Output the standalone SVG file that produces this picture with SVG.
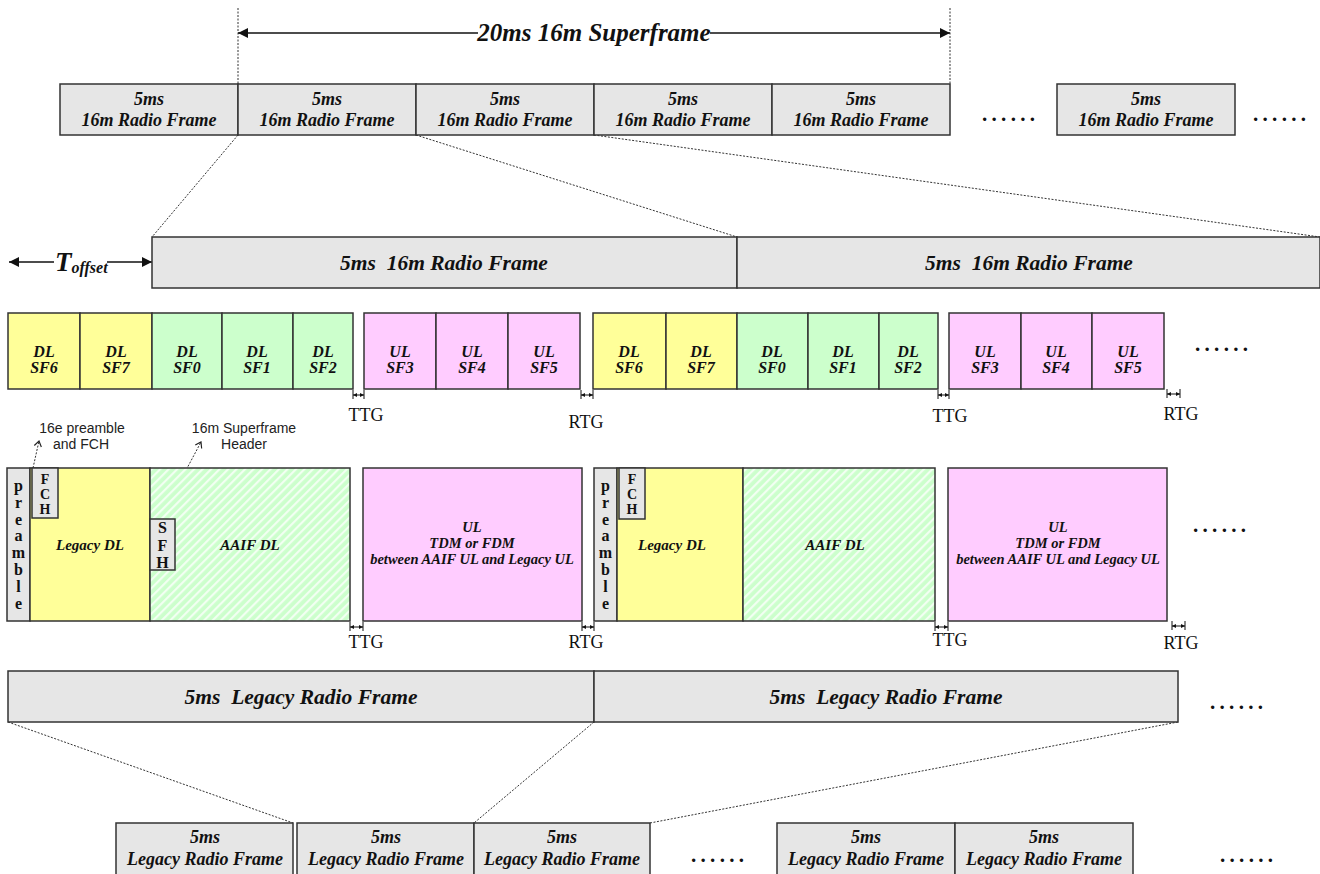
<svg xmlns="http://www.w3.org/2000/svg" width="1320" height="874" viewBox="0 0 1320 874">
<defs>
<style>
.g{fill:#e6e6e6;stroke:#333;stroke-width:1.5}
.y{fill:#ffff99;stroke:#333;stroke-width:1.5}
.gr{fill:#ccffcc;stroke:#333;stroke-width:1.5}
.p{fill:#ffccff;stroke:#333;stroke-width:1.5}
.h{fill:url(#hatch);stroke:#333;stroke-width:1.5}
.bi{font-family:"Liberation Serif","Times New Roman",serif;font-weight:bold;font-style:italic;fill:#111;text-anchor:middle;white-space:pre}
.it{font-family:"Liberation Serif","Times New Roman",serif;font-style:italic;font-weight:bold;fill:#111;text-anchor:middle}
.rg{font-family:"Liberation Serif","Times New Roman",serif;fill:#111;text-anchor:middle;font-size:18px}
.vb{font-family:"Liberation Serif","Times New Roman",serif;font-weight:bold;fill:#111;text-anchor:middle}
.ar{font-family:"Liberation Sans",Arial,sans-serif;fill:#222;font-size:14px;text-anchor:middle}
.dots{font-family:"Liberation Serif",serif;font-weight:bold;font-size:21px;letter-spacing:4.3px;fill:#111}
.dl{stroke:#333;stroke-width:1;stroke-dasharray:2,1.5;fill:none}
.arw{stroke:#111;stroke-width:1.5;fill:none}
.gap{stroke:#111;stroke-width:1;fill:none}
</style>
<pattern id="hatch" width="6" height="6" patternUnits="userSpaceOnUse" patternTransform="rotate(45)">
<rect width="6" height="6" fill="#ccffcc"/>
<rect width="2.2" height="6" fill="#f2fff2"/>
</pattern>
<marker id="ah" viewBox="0 0 10 10" refX="10" refY="5" markerWidth="11" markerHeight="10" markerUnits="userSpaceOnUse" orient="auto-start-reverse">
<path d="M0,0 L10,5 L0,10 Z" fill="#111"/>
</marker>
<marker id="sa" viewBox="0 0 10 10" refX="10" refY="5" markerWidth="4" markerHeight="4" markerUnits="userSpaceOnUse" orient="auto-start-reverse">
<path d="M0,0 L10,5 L0,10 Z" fill="#111"/>
</marker>
<marker id="oa" viewBox="0 0 10 10" refX="9" refY="5" markerWidth="9" markerHeight="9" markerUnits="userSpaceOnUse" orient="auto">
<path d="M3,1 L9,5 L3,9" fill="none" stroke="#222" stroke-width="1.3"/>
</marker>
</defs>
<rect width="1320" height="874" fill="#ffffff"/>

<!-- connectors -->
<g id="connectors">
<line class="dl" x1="238" y1="8" x2="238" y2="84"/>
<line class="dl" x1="950" y1="8" x2="950" y2="84"/>
<line class="arw" x1="238" y1="33" x2="478" y2="33" marker-start="url(#ah)"/>
<line class="arw" x1="710" y1="33" x2="950" y2="33" marker-end="url(#ah)"/>
<line class="dl" x1="238" y1="135" x2="152" y2="237"/>
<line class="dl" x1="416" y1="135" x2="737" y2="237"/>
<line class="dl" x1="594" y1="135" x2="1320" y2="237"/>
<line class="arw" x1="9" y1="262" x2="54" y2="262" marker-start="url(#ah)"/>
<line class="arw" x1="107" y1="262" x2="152" y2="262" marker-end="url(#ah)"/>
<line class="dl" x1="33" y1="468" x2="39" y2="441" marker-end="url(#oa)"/>
<line class="dl" x1="160" y1="519" x2="201" y2="442" marker-end="url(#oa)"/>
<line class="dl" x1="8" y1="722" x2="293" y2="823"/>
<line class="dl" x1="594" y1="722" x2="474" y2="823"/>
<line class="dl" x1="1178" y1="722" x2="650" y2="823"/>
<g id="gaps">
<path class="gap" d="M353,390 v9 M364,390 v9 M938,390 v9 M949,390 v9 M581,390 v9 M593,390 v9 M1167,389 v9 M1180,389 v9"/>
<line class="gap" x1="353" y1="395" x2="364" y2="395" marker-start="url(#sa)" marker-end="url(#sa)"/>
<line class="gap" x1="581" y1="395" x2="593" y2="395" marker-start="url(#sa)" marker-end="url(#sa)"/>
<line class="gap" x1="938" y1="395" x2="949" y2="395" marker-start="url(#sa)" marker-end="url(#sa)"/>
<line class="gap" x1="1167" y1="394" x2="1180" y2="394" marker-start="url(#sa)" marker-end="url(#sa)"/>
<path class="gap" d="M350,622 v9 M363,622 v9 M582,622 v9 M594,622 v9 M935,622 v9 M948,622 v9 M1172,621 v9 M1185,621 v9"/>
<line class="gap" x1="350" y1="627" x2="363" y2="627" marker-start="url(#sa)" marker-end="url(#sa)"/>
<line class="gap" x1="582" y1="627" x2="594" y2="627" marker-start="url(#sa)" marker-end="url(#sa)"/>
<line class="gap" x1="935" y1="627" x2="948" y2="627" marker-start="url(#sa)" marker-end="url(#sa)"/>
<line class="gap" x1="1172" y1="626" x2="1185" y2="626" marker-start="url(#sa)" marker-end="url(#sa)"/>
</g>
</g>

<!-- labels -->
<text id="superframe-label" class="bi" x="594" y="41" font-size="25">20ms 16m Superframe</text>
<text id="toffset" class="bi" x="55" y="271" font-size="27" style="text-anchor:start">T<tspan font-size="16" dy="2">offset</tspan></text>

<!-- top row -->
<g id="top-row">
<g id="t1"><rect class="g" x="60" y="84" width="178" height="51"/><text class="bi" x="149" y="105" font-size="18">5ms</text><text class="bi" x="149" y="126" font-size="18">16m Radio Frame</text></g>
<g id="t2"><rect class="g" x="238" y="84" width="178" height="51"/><text class="bi" x="327" y="105" font-size="18">5ms</text><text class="bi" x="327" y="126" font-size="18">16m Radio Frame</text></g>
<g id="t3"><rect class="g" x="416" y="84" width="178" height="51"/><text class="bi" x="505" y="105" font-size="18">5ms</text><text class="bi" x="505" y="126" font-size="18">16m Radio Frame</text></g>
<g id="t4"><rect class="g" x="594" y="84" width="178" height="51"/><text class="bi" x="683" y="105" font-size="18">5ms</text><text class="bi" x="683" y="126" font-size="18">16m Radio Frame</text></g>
<g id="t5"><rect class="g" x="772" y="84" width="178" height="51"/><text class="bi" x="861" y="105" font-size="18">5ms</text><text class="bi" x="861" y="126" font-size="18">16m Radio Frame</text></g>
<g id="t6"><rect class="g" x="1057" y="84" width="178" height="51"/><text class="bi" x="1146" y="105" font-size="18">5ms</text><text class="bi" x="1146" y="126" font-size="18">16m Radio Frame</text></g>
<text class="dots" x="982" y="121">......</text>
<text class="dots" x="1253" y="121">......</text>
</g>

<!-- row 2 -->
<g id="row2">
<g id="r2a"><rect class="g" x="152" y="237" width="585" height="51"/><text class="bi" x="444" y="270" font-size="21.5">5ms  16m Radio Frame</text></g>
<g id="r2b"><rect class="g" x="737" y="237" width="583" height="51"/><text class="bi" x="1029" y="270" font-size="21.5">5ms  16m Radio Frame</text></g>
</g>

<!-- row 3 subframes -->
<g id="row3">
<g id="s1"><rect class="y" x="8" y="313" width="72" height="76"/><text class="bi" x="44" y="357" font-size="16">DL</text><text class="bi" x="44" y="373" font-size="16">SF6</text></g>
<g id="s2"><rect class="y" x="80" y="313" width="72" height="76"/><text class="bi" x="116" y="357" font-size="16">DL</text><text class="bi" x="116" y="373" font-size="16">SF7</text></g>
<g id="s3"><rect class="gr" x="152" y="313" width="70" height="76"/><text class="bi" x="187" y="357" font-size="16">DL</text><text class="bi" x="187" y="373" font-size="16">SF0</text></g>
<g id="s4"><rect class="gr" x="222" y="313" width="71" height="76"/><text class="bi" x="257" y="357" font-size="16">DL</text><text class="bi" x="257" y="373" font-size="16">SF1</text></g>
<g id="s5"><rect class="gr" x="293" y="313" width="60" height="76"/><text class="bi" x="323" y="357" font-size="16">DL</text><text class="bi" x="323" y="373" font-size="16">SF2</text></g>
<g id="s6"><rect class="p" x="364" y="313" width="72" height="76"/><text class="bi" x="400" y="357" font-size="16">UL</text><text class="bi" x="400" y="373" font-size="16">SF3</text></g>
<g id="s7"><rect class="p" x="436" y="313" width="72" height="76"/><text class="bi" x="472" y="357" font-size="16">UL</text><text class="bi" x="472" y="373" font-size="16">SF4</text></g>
<g id="s8"><rect class="p" x="508" y="313" width="72" height="76"/><text class="bi" x="544" y="357" font-size="16">UL</text><text class="bi" x="544" y="373" font-size="16">SF5</text></g>
<g id="s9"><rect class="y" x="593" y="313" width="73" height="76"/><text class="bi" x="629" y="357" font-size="16">DL</text><text class="bi" x="629" y="373" font-size="16">SF6</text></g>
<g id="s10"><rect class="y" x="666" y="313" width="71" height="76"/><text class="bi" x="701" y="357" font-size="16">DL</text><text class="bi" x="701" y="373" font-size="16">SF7</text></g>
<g id="s11"><rect class="gr" x="737" y="313" width="71" height="76"/><text class="bi" x="772" y="357" font-size="16">DL</text><text class="bi" x="772" y="373" font-size="16">SF0</text></g>
<g id="s12"><rect class="gr" x="808" y="313" width="71" height="76"/><text class="bi" x="843" y="357" font-size="16">DL</text><text class="bi" x="843" y="373" font-size="16">SF1</text></g>
<g id="s13"><rect class="gr" x="879" y="313" width="59" height="76"/><text class="bi" x="908" y="357" font-size="16">DL</text><text class="bi" x="908" y="373" font-size="16">SF2</text></g>
<g id="s14"><rect class="p" x="949" y="313" width="72" height="76"/><text class="bi" x="985" y="357" font-size="16">UL</text><text class="bi" x="985" y="373" font-size="16">SF3</text></g>
<g id="s15"><rect class="p" x="1021" y="313" width="71" height="76"/><text class="bi" x="1056" y="357" font-size="16">UL</text><text class="bi" x="1056" y="373" font-size="16">SF4</text></g>
<g id="s16"><rect class="p" x="1092" y="313" width="72" height="76"/><text class="bi" x="1128" y="357" font-size="16">UL</text><text class="bi" x="1128" y="373" font-size="16">SF5</text></g>
<text class="dots" x="1195" y="351">......</text>
<text class="rg" x="366" y="421">TTG</text>
<text class="rg" x="586" y="428">RTG</text>
<text class="rg" x="950" y="422">TTG</text>
<text class="rg" x="1181" y="420">RTG</text>
</g>

<!-- annotations -->
<g id="ann-fch"><text class="ar" x="82" y="433">16e preamble</text><text class="ar" x="81" y="449">and FCH</text></g>
<g id="ann-sfh"><text class="ar" x="244" y="433">16m Superframe</text><text class="ar" x="244" y="449">Header</text></g>

<!-- row 4 -->
<g id="row4a">
<g id="pre1"><rect class="g" x="7" y="468" width="23" height="153"/><text class="vb" font-size="16"><tspan x="18.5" y="491">p</tspan><tspan x="18.5" y="508">r</tspan><tspan x="18.5" y="525">e</tspan><tspan x="18.5" y="541">a</tspan><tspan x="18.5" y="558">m</tspan><tspan x="18.5" y="575">b</tspan><tspan x="18.5" y="592">l</tspan><tspan x="18.5" y="609">e</tspan></text></g>
<g id="ldl1"><rect class="y" x="30" y="468" width="120" height="153"/><text class="it" x="90" y="550" font-size="15">Legacy DL</text></g>
<g id="fch1"><rect class="g" x="32" y="468" width="26" height="50"/><text class="vb" font-size="14"><tspan x="45" y="484">F</tspan><tspan x="45" y="499">C</tspan><tspan x="45" y="514">H</tspan></text></g>
<g id="aaif1"><rect class="h" x="150" y="468" width="200" height="153"/><text class="it" x="250" y="550" font-size="15">AAIF DL</text></g>
<g id="sfh1"><rect class="g" x="150" y="519" width="25" height="51"/><text class="vb" font-size="16"><tspan x="162.5" y="533">S</tspan><tspan x="162.5" y="551">F</tspan><tspan x="162.5" y="568">H</tspan></text></g>
<g id="ul1"><rect class="p" x="363" y="468" width="219" height="153"/><text class="it" x="472" y="532" font-size="14.5">UL</text><text class="it" x="472" y="548" font-size="14.5">TDM or FDM</text><text class="it" x="472" y="564" font-size="14.5">between AAIF UL and Legacy UL</text></g>
</g>
<g id="row4b">
<g id="pre2"><rect class="g" x="594" y="468" width="23" height="153"/><text class="vb" font-size="16"><tspan x="605.5" y="491">p</tspan><tspan x="605.5" y="508">r</tspan><tspan x="605.5" y="525">e</tspan><tspan x="605.5" y="541">a</tspan><tspan x="605.5" y="558">m</tspan><tspan x="605.5" y="575">b</tspan><tspan x="605.5" y="592">l</tspan><tspan x="605.5" y="609">e</tspan></text></g>
<g id="ldl2"><rect class="y" x="617" y="468" width="126" height="153"/><text class="it" x="672" y="550" font-size="15">Legacy DL</text></g>
<g id="fch2"><rect class="g" x="619" y="468" width="26" height="51"/><text class="vb" font-size="14"><tspan x="632" y="484">F</tspan><tspan x="632" y="499">C</tspan><tspan x="632" y="514">H</tspan></text></g>
<g id="aaif2"><rect class="h" x="743" y="468" width="192" height="153"/><text class="it" x="835" y="550" font-size="15">AAIF DL</text></g>
<g id="ul2"><rect class="p" x="948" y="468" width="219" height="153"/><text class="it" x="1058" y="532" font-size="14.5">UL</text><text class="it" x="1058" y="548" font-size="14.5">TDM or FDM</text><text class="it" x="1058" y="564" font-size="14.5">between AAIF UL and Legacy UL</text></g>
<text class="dots" x="1193" y="532">......</text>
<text class="rg" x="366" y="648">TTG</text>
<text class="rg" x="586" y="648">RTG</text>
<text class="rg" x="950" y="646">TTG</text>
<text class="rg" x="1181" y="649">RTG</text>
</g>

<!-- legacy row -->
<g id="legacy-row">
<g id="lg1"><rect class="g" x="8" y="671" width="586" height="51"/><text class="bi" x="301" y="704" font-size="21.5">5ms  Legacy Radio Frame</text></g>
<g id="lg2"><rect class="g" x="594" y="671" width="584" height="51"/><text class="bi" x="886" y="704" font-size="21.5">5ms  Legacy Radio Frame</text></g>
<text class="dots" x="1210" y="709">......</text>
</g>

<!-- bottom row -->
<g id="bottom-row">
<g id="b1"><rect class="g" x="116" y="823" width="177" height="60"/><text class="bi" x="205" y="843" font-size="18">5ms</text><text class="bi" x="205" y="865" font-size="18">Legacy Radio Frame</text></g>
<g id="b2"><rect class="g" x="297" y="823" width="177" height="60"/><text class="bi" x="386" y="843" font-size="18">5ms</text><text class="bi" x="386" y="865" font-size="18">Legacy Radio Frame</text></g>
<g id="b3"><rect class="g" x="474" y="823" width="176" height="60"/><text class="bi" x="562" y="843" font-size="18">5ms</text><text class="bi" x="562" y="865" font-size="18">Legacy Radio Frame</text></g>
<g id="b4"><rect class="g" x="777" y="823" width="178" height="60"/><text class="bi" x="866" y="843" font-size="18">5ms</text><text class="bi" x="866" y="865" font-size="18">Legacy Radio Frame</text></g>
<g id="b5"><rect class="g" x="955" y="823" width="178" height="60"/><text class="bi" x="1044" y="843" font-size="18">5ms</text><text class="bi" x="1044" y="865" font-size="18">Legacy Radio Frame</text></g>
<text class="dots" x="691" y="862">......</text>
<text class="dots" x="1220" y="862">......</text>
</g>
</svg>
